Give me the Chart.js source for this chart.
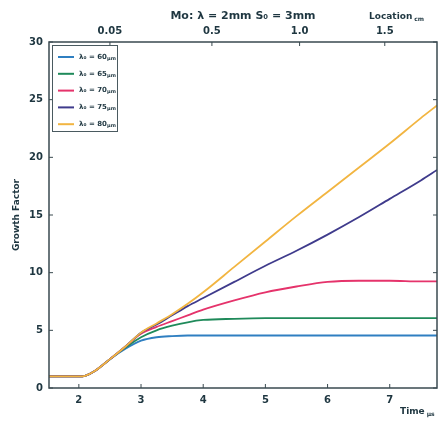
<!DOCTYPE html>
<html><head><meta charset="utf-8">
<script src="https://cdn.jsdelivr.net/npm/chart.js@4"></script>
<style>html,body{margin:0;padding:0;background:#fff}#wrap{width:441px;height:423px}</style>
</head><body><div id="wrap"><canvas id="c" width="441" height="423"></canvas></div>
<script>
const timeValues = [1.5, 1.75, 2.0, 2.1, 2.25, 2.5, 2.75, 3.0, 3.25, 3.5, 3.75, 4.0, 4.5, 5.0, 5.5, 6.0, 6.5, 7.0, 7.5, 7.76];
const seriesLabels = ['λ₀ = 60μm', 'λ₀ = 65μm', 'λ₀ = 70μm', 'λ₀ = 75μm', 'λ₀ = 80μm'];
const growth60 = [1.0, 1.0, 1.0, 1.05, 1.45, 2.5, 3.4, 4.1, 4.4, 4.5, 4.55, 4.55, 4.55, 4.55, 4.55, 4.55, 4.55, 4.55, 4.55, 4.55];
const growth65 = [1.0, 1.0, 1.0, 1.05, 1.45, 2.5, 3.5, 4.4, 5.0, 5.4, 5.7, 5.9, 6.0, 6.05, 6.05, 6.05, 6.05, 6.05, 6.05, 6.05];
const growth70 = [1.0, 1.0, 1.0, 1.05, 1.45, 2.5, 3.6, 4.7, 5.3, 5.8, 6.3, 6.8, 7.6, 8.3, 8.8, 9.2, 9.3, 9.3, 9.25, 9.25];
const growth75 = [1.0, 1.0, 1.0, 1.05, 1.45, 2.5, 3.6, 4.8, 5.5, 6.3, 7.1, 7.8, 9.2, 10.6, 11.9, 13.3, 14.8, 16.4, 18.0, 18.9];
const growth80 = [1.0, 1.0, 1.0, 1.05, 1.45, 2.5, 3.6, 4.8, 5.6, 6.4, 7.3, 8.3, 10.5, 12.7, 14.9, 17.0, 19.1, 21.2, 23.4, 24.5];
const seriesColors = ['#2f7fc1', '#1f8a5a', '#e5336b', '#3f3b8c', '#f2b541'];
const bottomTicks = [2, 3, 4, 5, 6, 7];
const topTickPositions = [2.5, 4.14, 5.55, 6.92];
const topTickLabels = ['0.05', '0.5', '1.0', '1.5'];
const yTicks = [0, 5, 10, 15, 20, 25, 30];

const allSeries = [growth60, growth65, growth70, growth75, growth80];
const textColor = '#1e3640';
const FONT = '"DejaVu Sans", sans-serif';

const datasets = allSeries.map((s, i) => ({
  label: seriesLabels[i],
  data: s.map((v, j) => ({x: timeValues[j], y: v})),
  borderColor: seriesColors[i],
  backgroundColor: seriesColors[i],
  borderWidth: 1.8,
  pointRadius: 0,
  cubicInterpolationMode: 'monotone',
  order: 5 - i
}));

const extras = {
  id: 'extras',
  afterDraw(chart) {
    const ctx = chart.ctx, a = chart.chartArea;
    ctx.save();
    ctx.strokeStyle = '#3a4a50';
    ctx.lineWidth = 1.5;
    ctx.strokeRect(a.left, a.top, a.right - a.left, a.bottom - a.top);
    ctx.lineWidth = 1;
    const xb = chart.scales.x, xt = chart.scales.xTop, y = chart.scales.y;
    xb.ticks.forEach(t => { const p = xb.getPixelForValue(t.value); ctx.beginPath(); ctx.moveTo(p, a.bottom); ctx.lineTo(p, a.bottom - 4); ctx.stroke(); });
    xt.ticks.forEach(t => { const p = xt.getPixelForValue(t.value); ctx.beginPath(); ctx.moveTo(p, a.top); ctx.lineTo(p, a.top + 4); ctx.stroke(); });
    y.ticks.forEach(t => { const p = y.getPixelForValue(t.value); ctx.beginPath(); ctx.moveTo(a.left, p); ctx.lineTo(a.left + 4, p); ctx.moveTo(a.right, p); ctx.lineTo(a.right - 4, p); ctx.stroke(); });
    // legend
    const lx = a.left + 3, ly = a.top + 3;
    ctx.fillStyle = '#fff';
    ctx.fillRect(lx, ly, 65, 86);
    ctx.strokeStyle = '#4a5a60';
    ctx.lineWidth = 1;
    ctx.strokeRect(lx + 0.5, ly + 0.5, 65, 86);
    ctx.textBaseline = 'middle';
    ctx.textAlign = 'left';
    chart.data.datasets.forEach((d, i) => {
      const yy = ly + 12 + i * 16.8;
      ctx.strokeStyle = d.borderColor;
      ctx.lineWidth = 2;
      ctx.beginPath(); ctx.moveTo(lx + 6, yy); ctx.lineTo(lx + 22, yy); ctx.stroke();
      ctx.fillStyle = textColor;
      const parts = d.label.split('μm');
      ctx.font = 'bold 7px ' + FONT;
      ctx.fillText(parts[0], lx + 27, yy);
      const w0 = ctx.measureText(parts[0]).width;
      ctx.font = 'bold 5px ' + FONT;
      ctx.fillText('μm', lx + 27 + w0, yy + 1.5);
    });
    ctx.fillStyle = textColor;
    ctx.textBaseline = 'middle';
    ctx.font = 'bold 11px ' + FONT;
    ctx.textAlign = 'center';
    ctx.fillText('Mo: λ = 2mm S₀ = 3mm', (a.left + a.right) / 2, 16);
    ctx.textAlign = 'left';
    ctx.font = 'bold 9px ' + FONT;
    ctx.fillText('Location', 369, 17);
    let w = ctx.measureText('Location').width;
    ctx.font = 'bold 6px ' + FONT;
    ctx.fillText('cm', 369 + w + 2, 19);
    ctx.font = 'bold 9px ' + FONT;
    ctx.fillText('Time', 400, 412);
    w = ctx.measureText('Time').width;
    ctx.font = 'bold 6px ' + FONT;
    ctx.fillText('μs', 400 + w + 2, 414);
    ctx.translate(17, (a.top + a.bottom) / 2);
    ctx.rotate(-Math.PI / 2);
    ctx.textAlign = 'center';
    ctx.font = 'bold 9px ' + FONT;
    ctx.fillText('Growth Factor', 0, 0);
    ctx.restore();
  }
};

new Chart(document.getElementById('c'), {
  type: 'line',
  data: {datasets},
  options: {
    responsive: false,
    animation: false,
    layout: {padding: {left: 0, right: 4, top: 0, bottom: 0}},
    plugins: {
      title: {display: false},
      tooltip: {enabled: false},
      legend: {display: false}
    },
    scales: {
      x: {
        type: 'linear', position: 'bottom', min: 1.52, max: 7.76,
        afterBuildTicks: s => { s.ticks = bottomTicks.map(v => ({value: v})); },
        afterFit: s => { s.height = 35; },
        grid: {display: false, drawTicks: false},
        border: {display: false},
        ticks: {color: textColor, padding: 6, font: {family: FONT, size: 10, weight: 'bold'}, callback: v => String(v)}
      },
      xTop: {
        type: 'linear', position: 'top', min: 1.52, max: 7.76,
        afterBuildTicks: s => { s.ticks = topTickPositions.map(v => ({value: v})); },
        afterFit: s => { s.height = 42; },
        grid: {display: false, drawTicks: false},
        border: {display: false},
        ticks: {color: textColor, padding: 5, font: {family: FONT, size: 10, weight: 'bold'},
          callback: (v, i) => topTickLabels[i]}
      },
      y: {
        type: 'linear', min: 0, max: 30,
        afterBuildTicks: s => { s.ticks = yTicks.map(v => ({value: v})); },
        afterFit: s => { s.width = 49; },
        grid: {display: false, drawTicks: false},
        border: {display: false},
        ticks: {color: textColor, padding: 6, font: {family: FONT, size: 10, weight: 'bold'}}
      }
    }
  },
  plugins: [extras]
});
</script>
</body></html>
